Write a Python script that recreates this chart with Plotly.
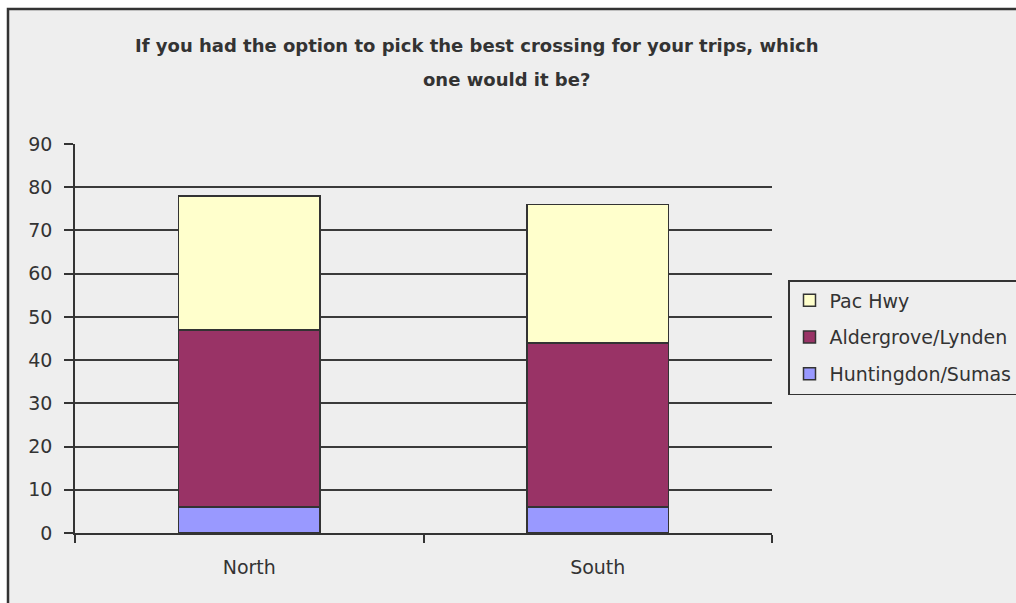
import plotly.graph_objects as go

# Preferred crossing by travel direction (stacked counts)
regions = ["North", "South"]
huntingdon_sumas = [6, 6]
aldergrove_lynden = [41, 38]
pac_hwy = [31, 32]

series_names = ["Huntingdon/Sumas", "Aldergrove/Lynden", "Pac Hwy"]
series_values = [huntingdon_sumas, aldergrove_lynden, pac_hwy]
series_colors = ["#9999FF", "#993366", "#FFFFCC"]
legend_ranks = [3, 2, 1]

title_lines = ["If you had the option to pick the best crossing for your trips, which",
               "one would it be?"]

W, H = 1016, 603
L, R, T, B = 75, 244, 144, 70
pw, ph = W - L - R, H - T - B

def px_x(px):
    return (px - L) / pw

def px_y(py):
    return (H - B - py) / ph

ink = "#333333"
font = "DejaVu Sans, Verdana, sans-serif"

fig = go.Figure()
for name, vals, col, rank in zip(series_names, series_values, series_colors, legend_ranks):
    fig.add_trace(go.Bar(
        x=regions, y=vals, name=name, legendgroup=name, legendrank=rank,
        marker=dict(color=col, line=dict(color=ink, width=1.5)),
    ))

# two-line bold heading, each line placed on its own
title_pos = [(477, 45), (506, 80)]
annotations = [
    dict(text=line, xref="paper", yref="paper", x=px_x(cx), y=px_y(cy),
         xanchor="center", yanchor="middle", showarrow=False,
         font=dict(family=font, size=18, color=ink, weight="bold"))
    for line, (cx, cy) in zip(title_lines, title_pos)
]

fig.update_layout(
    width=W, height=H,
    margin=dict(l=L, r=R, t=T, b=B, autoexpand=False),
    barmode="stack", bargap=0.595,
    paper_bgcolor="white", plot_bgcolor="rgba(0,0,0,0)",
    font=dict(family=font, color=ink, size=19),
    annotations=annotations,
    legend=dict(x=px_x(788), y=px_y(280), xanchor="left", yanchor="top",
                bgcolor="#EEEEEE", bordercolor=ink, borderwidth=1.5,
                traceorder="grouped", tracegroupgap=9,
                font=dict(size=19, family=font, color=ink)),
    shapes=[dict(type="rect", xref="paper", yref="paper", layer="below",
                 x0=px_x(8), x1=px_x(1100), y0=px_y(700), y1=px_y(9),
                 fillcolor="#EEEEEE", line=dict(color=ink, width=2.5))],
    showlegend=True,
)

fig.update_yaxes(range=[0, 90], dtick=10, showgrid=True, gridcolor="#3a3a3a",
                 gridwidth=1.5, showline=True, linecolor=ink, linewidth=1.5,
                 ticks="outside", ticklen=9, tickcolor=ink, tickwidth=1.5,
                 zeroline=False, ticklabelstandoff=8, fixedrange=True)
fig.update_xaxes(showline=True, linecolor=ink, linewidth=1.5, showgrid=False,
                 ticks="outside", tickson="boundaries", ticklen=8, tickcolor=ink,
                 tickwidth=1.5, ticklabelstandoff=16, fixedrange=True)

fig.write_html("out.html")
